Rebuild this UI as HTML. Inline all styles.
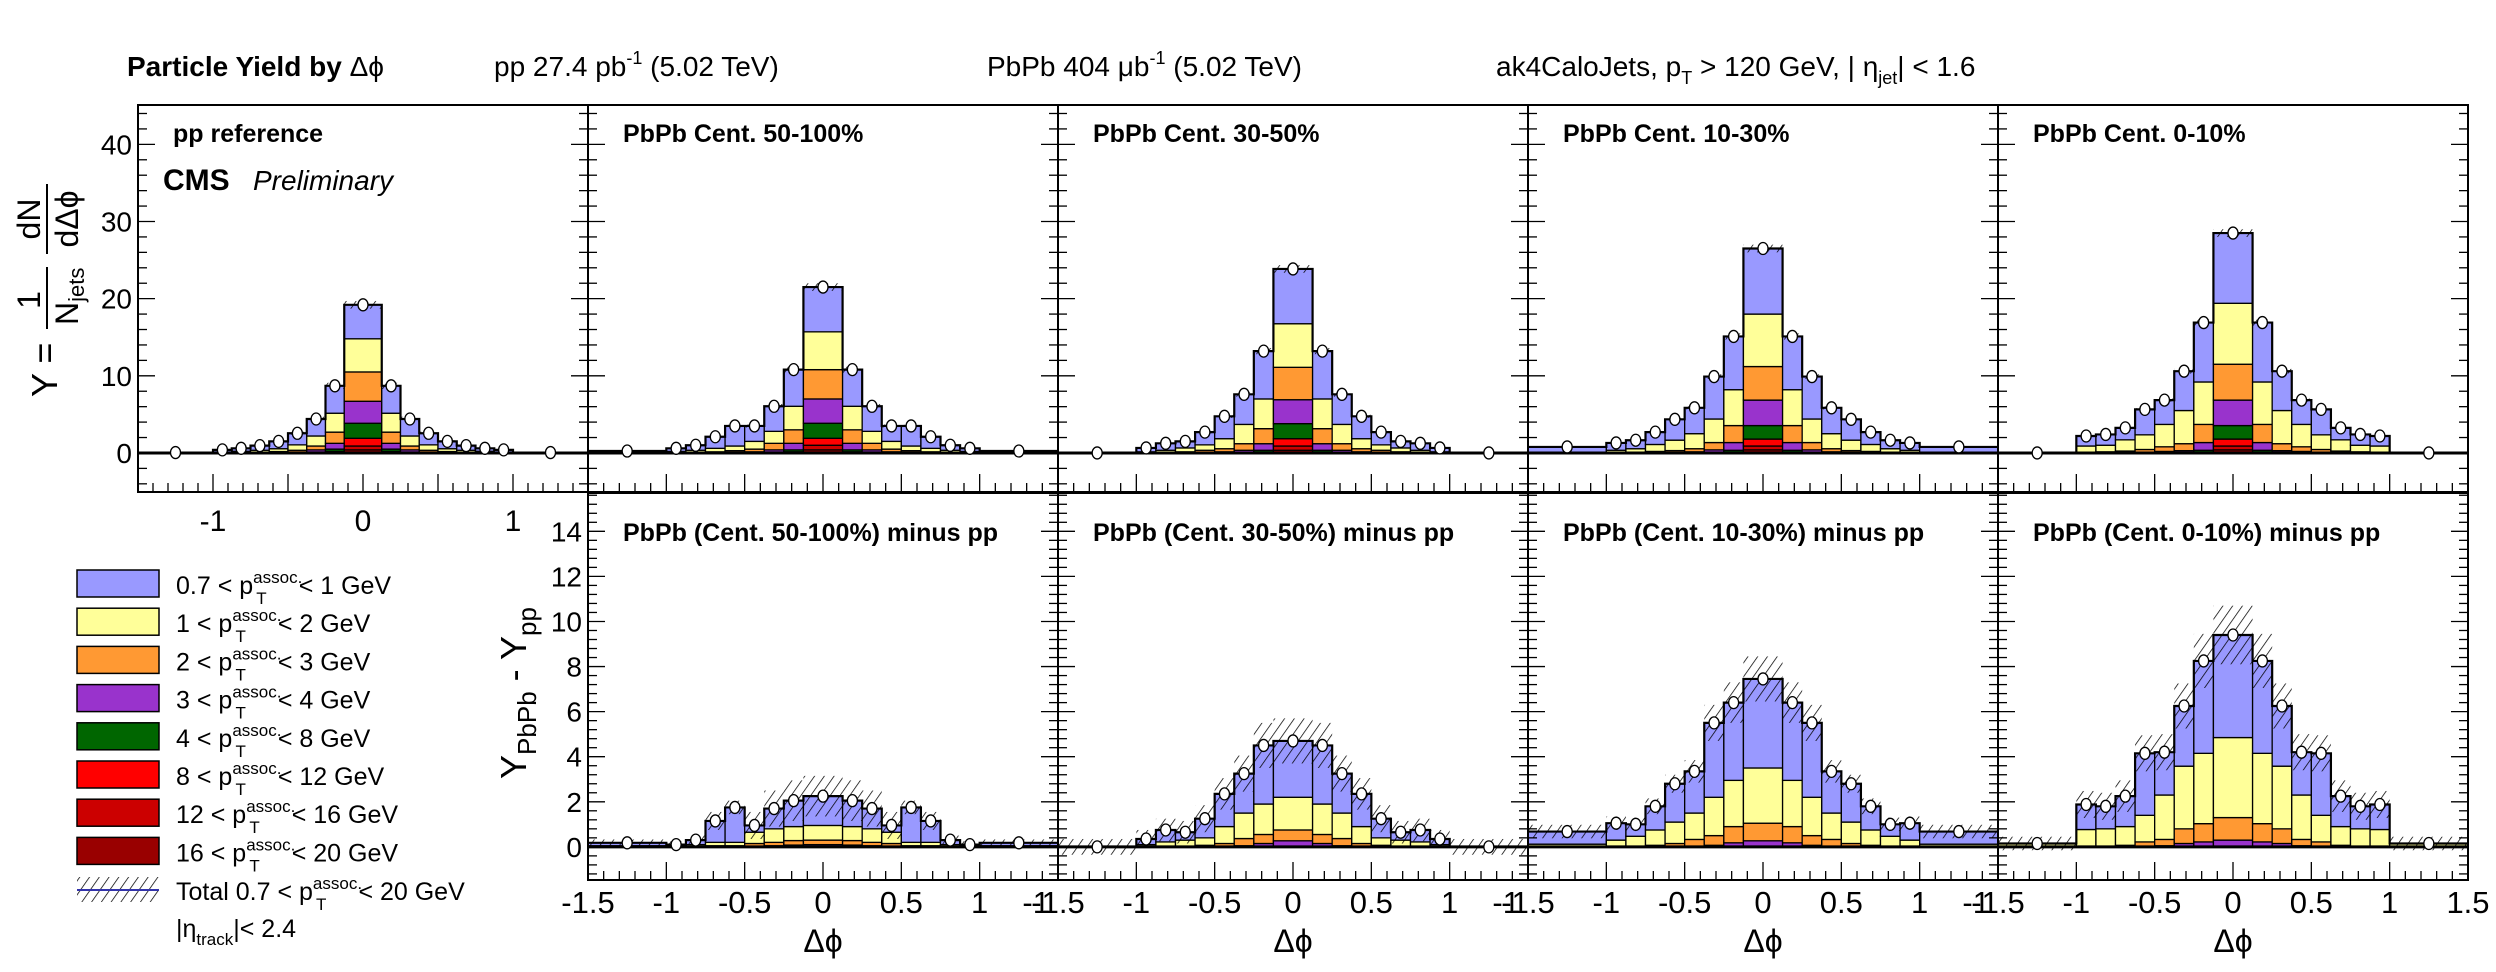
<!DOCTYPE html>
<html><head><meta charset="utf-8"><style>
html,body{margin:0;padding:0;background:#fff}
svg{display:block}
text{font-family:"Liberation Sans",sans-serif;fill:#000}
</style></head><body>
<svg id="chart" width="2496" height="972" viewBox="0 0 2496 972" xmlns="http://www.w3.org/2000/svg">
<defs>
<pattern id="hatch" patternUnits="userSpaceOnUse" width="8" height="8" patternTransform="rotate(35)">
<line x1="0" y1="0" x2="0" y2="8" stroke="#000" stroke-width="1.5"/>
</pattern>
</defs>
<g>
<text x="127" y="76" font-size="28" font-weight="bold">Particle Yield by <tspan font-weight="normal">Δϕ</tspan></text>
<text x="494" y="76" font-size="28">pp 27.4 pb<tspan font-size="18" dy="-12">-1</tspan><tspan dy="12"> (5.02 TeV)</tspan></text>
<text x="987" y="76" font-size="28">PbPb 404 μb<tspan font-size="18" dy="-12">-1</tspan><tspan dy="12"> (5.02 TeV)</tspan></text>
<text x="1496" y="76" font-size="28">ak4CaloJets, p<tspan font-size="18" dy="8">T</tspan><tspan dy="-8"> &gt; 120 GeV, | η</tspan><tspan font-size="18" dy="8">jet</tspan><tspan dy="-8">| &lt; 1.6</tspan></text>
</g>
<g id="panels"></g>
<g transform="translate(0,397) rotate(-90)">
<text x="0" y="57" font-size="36">Y =</text>
<text x="97" y="40" font-size="32" text-anchor="middle">1</text>
<line x1="68" y1="47" x2="130" y2="47" stroke="#000" stroke-width="2"/>
<text x="72" y="78" font-size="32">N<tspan font-size="22" dy="6">jets</tspan></text>
<text x="178" y="40" font-size="32" text-anchor="middle">dN</text>
<line x1="143" y1="47" x2="213" y2="47" stroke="#000" stroke-width="2"/>
<text x="178" y="78" font-size="32" text-anchor="middle">dΔϕ</text>
</g>
<g transform="translate(526,693) rotate(-90)">
<text x="0" y="0" font-size="36" text-anchor="middle">Y<tspan font-size="26" dy="10">PbPb</tspan><tspan dy="-10"> - Y</tspan><tspan font-size="26" dy="10">pp</tspan></text>
</g>
<g id="legend"></g>
</svg>
<script>
// ---------- data ----------
const binEdges = [-1.5,-1,-0.875,-0.75,-0.625,-0.5,-0.375,-0.25,-0.125,0.125,0.25,0.375,0.5,0.625,0.75,0.875,1,1.5];
const seriesLabels = ["0.7 < p","1 < p","2 < p","3 < p","4 < p","8 < p","12 < p","16 < p"];
const seriesUpper = ["< 1 GeV","< 2 GeV","< 3 GeV","< 4 GeV","< 8 GeV","< 12 GeV","< 16 GeV","< 20 GeV"];
const seriesColors = ["#9999ff","#ffff99","#ff9933","#9933cc","#006600","#ff0000","#cc0000","#990000"];
// values per half-bin: [center, ±1 ... ±7, outer]
const yieldPP = [
 [4.4,3.55,2.2,1.5,0.95,0.6,0.38,0.28,0.04],
 [4.3,2.45,1.3,0.7,0.37,0.25,0.17,0.09,0.01],
 [3.8,1.45,0.5,0.23,0.12,0.07,0.04,0.03,0],
 [2.85,0.75,0.28,0.08,0.04,0.03,0.01,0,0],
 [1.95,0.3,0.08,0.04,0.02,0,0,0,0],
 [1.0,0.12,0.03,0,0,0,0,0,0],
 [0.5,0.05,0.01,0,0,0,0,0,0],
 [0.4,0.03,0,0,0,0,0,0,0]];
const yield50 = [
 [5.8,4.75,3.25,2.0,2.6,1.5,0.65,0.4,0.2],
 [4.9,3.05,1.55,1.0,0.6,0.45,0.27,0.16,0.05],
 [3.8,1.75,0.85,0.35,0.22,0.11,0.08,0.04,0],
 [3.15,0.85,0.28,0.1,0.08,0.04,0,0,0],
 [1.95,0.25,0.08,0.05,0,0,0,0,0],
 [0.9,0.09,0.04,0,0,0,0,0,0],
 [0.6,0.04,0,0,0,0,0,0,0],
 [0.4,0.02,0,0,0,0,0,0,0]];
const yield30 = [
 [7.1,6.2,3.9,2.9,1.65,0.85,0.9,0.5,0],
 [5.65,3.85,2.5,1.3,0.7,0.5,0.27,0.12,0],
 [4.2,1.95,0.85,0.4,0.27,0.12,0.08,0.03,0],
 [3.1,0.85,0.25,0.11,0.08,0.03,0,0,0],
 [1.95,0.23,0.07,0.04,0,0,0,0,0],
 [0.95,0.07,0.03,0,0,0,0,0,0],
 [0.55,0.03,0,0,0,0,0,0,0],
 [0.35,0.02,0,0,0,0,0,0,0]];
const yield10 = [
 [8.5,6.9,5.5,3.35,2.7,1.6,1.1,0.95,0.7],
 [6.8,4.65,3.05,1.95,1.35,0.9,0.45,0.3,0.08],
 [4.35,2.2,0.95,0.4,0.25,0.16,0.1,0.05,0],
 [3.3,1.0,0.3,0.11,0.06,0.04,0,0,0],
 [1.75,0.23,0.07,0.04,0,0,0,0,0],
 [0.9,0.07,0.03,0,0,0,0,0,0],
 [0.5,0.03,0,0,0,0,0,0,0],
 [0.4,0.02,0,0,0,0,0,0,0]];
const yield0 = [
 [9.1,7.7,5.1,3.15,3.3,1.55,1.4,1.3,0],
 [7.9,5.5,4.3,2.9,1.9,1.45,0.85,0.8,0],
 [4.65,2.35,0.9,0.6,0.38,0.2,0.15,0.1,0],
 [3.3,1.0,0.22,0.15,0.07,0.05,0,0,0],
 [1.75,0.23,0.05,0.05,0,0,0,0,0],
 [0.9,0.07,0.03,0,0,0,0,0,0],
 [0.5,0.03,0,0,0,0,0,0,0],
 [0.4,0.02,0,0,0,0,0,0,0]];
const diff50 = [
 [1.3,1.15,0.9,0.3,1.55,0.95,0.2,0.05,0.13],
 [0.65,0.62,0.6,0.5,0.15,0.15,0.08,0.05,0.05],
 [0.2,0.2,0.15,0.12,0.05,0.05,0.02,0,0],
 [0.1,0.08,0.05,0.03,0,0,0,0,0]];
const diff30 = [
 [2.5,2.6,1.75,1.45,0.85,0.35,0.53,0.25,0],
 [1.45,1.35,1.13,0.75,0.33,0.28,0.22,0.1,0],
 [0.48,0.4,0.32,0.15,0.07,0.02,0,0,0],
 [0.27,0.15,0.05,0,0,0,0,0,0]];
const diff10 = [
 [3.95,3.45,3.3,1.85,1.7,1.05,0.53,0.75,0.56],
 [2.45,2.05,1.7,1.17,0.95,0.68,0.47,0.3,0.12],
 [0.78,0.72,0.43,0.33,0.15,0.07,0,0,0],
 [0.27,0.18,0.07,0,0,0,0,0,0]];
const diff0 = [
 [4.55,4.1,2.67,1.9,2.75,1.35,1.0,1.11,0],
 [3.55,3.12,2.78,1.97,1.18,0.83,0.8,0.77,0.15],
 [1.0,0.81,0.65,0.28,0.22,0.07,0,0,0],
 [0.3,0.22,0.15,0.05,0,0,0,0,0]];
const sysTop = [0.5,0.4,0.3,0.2,0.15,0.12,0.1,0.1,0.12];
const sysDiff50 = [0.9,0.9,0.8,0.6,0.3,0.4,0.2,0.15,0.15];
const sysDiff30 = [1.0,1.0,0.8,0.7,0.6,0.5,0.5,0.4,0.35];
const sysDiff10 = [1.0,0.9,0.8,0.5,0.4,0.35,0.3,0.3,0.3];
const sysDiff0 = [1.3,1.2,1.0,0.8,0.8,0.7,0.6,0.6,0.3];
const topTicks = [0,10,20,30,40];
const bottomTicks = [0,2,4,6,8,10,12,14];
const xTickLabels = [-1.5,-1,-0.5,0,0.5,1];

// ---------- layout ----------
const NS = "http://www.w3.org/2000/svg";
const colX = [138,588,1058,1528,1998,2468];
const topRow = {y0:105,y1:492,vmin:-5.06,vmax:45.1};
const botRow = {y0:493,y1:880,vmin:-1.47,vmax:15.7};
function mk(tag, attrs, parent){const e=document.createElementNS(NS,tag);for(const k in attrs)e.setAttribute(k,attrs[k]);if(parent)parent.appendChild(e);return e;}
function yScale(row){return v=>row.y1-(v-row.vmin)/(row.vmax-row.vmin)*(row.y1-row.y0);}
function xScale(x0,x1){return v=>x0+(v+1.5)/3*(x1-x0);}
const root=document.getElementById('panels');

const panels=[
 {c:0,row:topRow,data:yieldPP,sys:sysTop,label:"pp reference",name:"pp-reference"},
 {c:1,row:topRow,data:yield50,sys:sysTop,label:"PbPb Cent. 50-100%",name:"pbpb-50-100"},
 {c:2,row:topRow,data:yield30,sys:sysTop,label:"PbPb Cent. 30-50%",name:"pbpb-30-50"},
 {c:3,row:topRow,data:yield10,sys:sysTop,label:"PbPb Cent. 10-30%",name:"pbpb-10-30"},
 {c:4,row:topRow,data:yield0,sys:sysTop,label:"PbPb Cent. 0-10%",name:"pbpb-0-10"},
 {c:1,row:botRow,data:diff50,sys:sysDiff50,label:"PbPb (Cent. 50-100%) minus pp",name:"diff-50-100"},
 {c:2,row:botRow,data:diff30,sys:sysDiff30,label:"PbPb (Cent. 30-50%) minus pp",name:"diff-30-50"},
 {c:3,row:botRow,data:diff10,sys:sysDiff10,label:"PbPb (Cent. 10-30%) minus pp",name:"diff-10-30"},
 {c:4,row:botRow,data:diff0,sys:sysDiff0,label:"PbPb (Cent. 0-10%) minus pp",name:"diff-0-10"}
];

panels.forEach((p,pi)=>{
 const x0=colX[p.c], x1=colX[p.c+1], row=p.row;
 const X=xScale(x0,x1), Y=yScale(row);
 const g=mk('g',{},root);
 
 
 const nb=binEdges.length-1;
 const totals=[];
 for(let i=0;i<nb;i++){
  const h=Math.abs(8-i);
  const xa=X(binEdges[i]), xb=X(binEdges[i+1]);
  let cum=0;
  for(let s=p.data.length-1;s>=0;s--){
   const v=p.data[s][h];
   if(v<=0) continue;
   const r=mk('rect',{x:xa,y:Y(cum+v),width:xb-xa,height:Y(cum)-Y(cum+v),fill:seriesColors[s],stroke:'#000','stroke-width':1.3},g);
   
   
   cum+=v;
  }
  totals.push(cum);
  const sv=p.sys[h];
  const hr=mk('rect',{x:xa,y:Y(cum+sv),width:xb-xa,height:Y(cum-sv)-Y(cum+sv),fill:'url(#hatch)'},g);
  
  
 }
 let d='';
 for(let i=0;i<nb;i++){const xa=X(binEdges[i]),xb=X(binEdges[i+1]),yy=Y(totals[i]);d+=(i===0?'M':'L')+xa+' '+yy+' L'+xb+' '+yy+' ';}
 const ol=mk('path',{d:d,fill:'none',stroke:'#000','stroke-width':2.2},g);
 
 
 const zl=mk('line',{x1:x0,x2:x1,y1:Y(0),y2:Y(0),stroke:'#000','stroke-width':3},g);
 
 
 for(let i=0;i<nb;i++){
  const cx=(X(binEdges[i])+X(binEdges[i+1]))/2;
  const m=mk('ellipse',{cx:cx,cy:Y(totals[i]),rx:5,ry:6,fill:'#fff',stroke:'#000','stroke-width':1.3},g);
  
  
 }
 const fr=mk('rect',{x:x0,y:row.y0,width:x1-x0,height:row.y1-row.y0,fill:'none',stroke:'#000','stroke-width':2},g);
 
 
 const major=row===topRow?10:2, minor=row===topRow?2:0.4;
 for(let v=Math.ceil(row.vmin/minor)*minor; v<=row.vmax; v+=minor){
  const vv=Math.round(v*100)/100;
  const isMaj=Math.abs(vv/major-Math.round(vv/major))<1e-6;
  const len=isMaj?17:9, yy=Y(vv);
  mk('line',{x1:x0,x2:x0+len,y1:yy,y2:yy,stroke:'#000','stroke-width':1.3},g);
  mk('line',{x1:x1,x2:x1-len,y1:yy,y2:yy,stroke:'#000','stroke-width':1.3},g);
 }
 for(let k=-15;k<=15;k++){
  const v=k/10, xx=X(v);
  const len=(k%5===0)?18:9;
  mk('line',{x1:xx,x2:xx,y1:row.y1,y2:row.y1-len,stroke:'#000','stroke-width':1.3},g);
 }
 const lt=mk('text',{x:x0+35,y:row===topRow?142:541,'font-size':25,'font-weight':'bold'},g);
 lt.textContent=p.label;
 
 
 if(row===botRow){
  xTickLabels.forEach(v=>{
   const t=mk('text',{x:X(v),y:913,'font-size':31,'text-anchor':'middle'},g);
   t.textContent=String(v);
   
   
  });
  const tr=mk('text',{x:x1-(p.c===4?0:8),y:913,'font-size':31,'text-anchor':p.c===4?'middle':'end'},g);
  tr.textContent=p.c===4?'1.5':'-1';
  
  
  const xt=mk('text',{x:(x0+x1)/2,y:952,'font-size':32,'text-anchor':'middle'},g);
  xt.textContent='Δϕ';
  
  
 }
});

(function(){
 const g=mk('g',{},root);
 
 
 const c=mk('text',{x:163,y:190,'font-size':30,'font-weight':'bold'},g);c.textContent='CMS';
 
 
 const pr=mk('text',{x:253,y:190,'font-size':28,'font-style':'italic'},g);pr.textContent='Preliminary';
 
 
 const Yt=yScale(topRow), Yb=yScale(botRow), Xp=xScale(colX[0],colX[1]);
 topTicks.forEach(v=>{
  const t=mk('text',{x:132,y:Yt(v)+10,'font-size':28,'text-anchor':'end'},g);t.textContent=String(v);
  
  
 });
 bottomTicks.forEach(v=>{
  const t=mk('text',{x:582,y:Yb(v)+10,'font-size':28,'text-anchor':'end'},g);t.textContent=String(v);
  
  
 });
 [-1,0,1].forEach(v=>{
  const t=mk('text',{x:Xp(v),y:531,'font-size':30,'text-anchor':'middle'},g);t.textContent=String(v);
  
  
 });
})();

(function(){
 const lg=document.getElementById('legend');
 for(let s=0;s<8;s++){
  const y=570+s*38.2;
  const e=mk('g',{},lg);
  
  
  mk('rect',{x:77,y:y,width:82,height:27,fill:seriesColors[s],stroke:'#000','stroke-width':1.5},e);
  const t=mk('text',{x:176,y:y+24,'font-size':25},e);
  t.innerHTML=seriesLabels[s]+'<tspan font-size="17" dy="-11">assoc.</tspan><tspan font-size="17" dx="-46" dy="21">T</tspan><tspan dx="32" dy="-10">'+seriesUpper[s]+'</tspan>';
 }
 const e=mk('g',{},lg);
 
 
 mk('rect',{x:77,y:877,width:82,height:25,fill:'url(#hatch)'},e);
 mk('line',{x1:77,x2:159,y1:890,y2:890,stroke:'#3333aa','stroke-width':2},e);
 const t=mk('text',{x:176,y:900,'font-size':25},e);
 t.innerHTML='Total 0.7 &lt; p<tspan font-size="17" dy="-11">assoc.</tspan><tspan font-size="17" dx="-46" dy="21">T</tspan><tspan dx="32" dy="-10">&lt; 20 GeV</tspan>';
 const t2=mk('text',{x:176,y:937,'font-size':25},lg);
 
 
 t2.innerHTML='|η<tspan font-size="17" dy="8">track</tspan><tspan dy="-8">|&lt; 2.4</tspan>';
})();
</script>
</body></html>
